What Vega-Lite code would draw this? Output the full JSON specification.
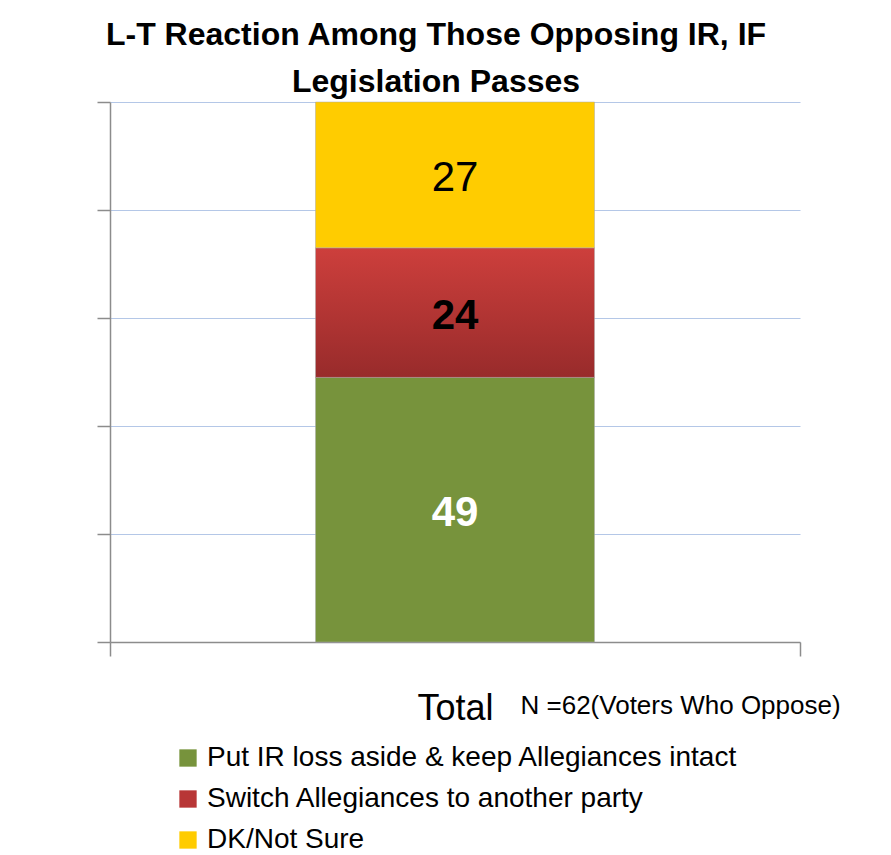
{
  "$schema": "https://vega.github.io/schema/vega-lite/v6.json",
  "width": 690,
  "height": 540,
  "autosize": "none",
  "padding": {"left": 110, "top": 102, "right": 91, "bottom": 213},
  "background": "white",
  "config": {"view": {"stroke": null}},
  "title": {
    "text": ["L-T Reaction Among Those Opposing IR, IF", "Legislation Passes"],
    "font": "Liberation Sans",
    "fontSize": 32,
    "fontWeight": "bold",
    "lineHeight": 47,
    "color": "black",
    "anchor": "middle",
    "dx": -19,
    "offset": 2
  },
  "data": {
    "values": [
      {"group": "Total", "category": "Put IR loss aside & keep Allegiances intact", "pct": 49, "rank": 1},
      {"group": "Total", "category": "Switch Allegiances to another party", "pct": 24, "rank": 2},
      {"group": "Total", "category": "DK/Not Sure", "pct": 27, "rank": 3}
    ]
  },
  "encoding": {
    "x": {
      "field": "group",
      "type": "nominal",
      "scale": {"paddingInner": 0, "paddingOuter": 0},
      "axis": {
        "tickBand": "extent",
        "ticks": true,
        "tickSize": 14,
        "tickColor": "#8c8c8c",
        "tickWidth": 1.5,
        "domainColor": "#8c8c8c",
        "domainWidth": 1.5,
        "labelAngle": 0,
        "labelFont": "Liberation Sans",
        "labelFontSize": 36,
        "labelColor": "black",
        "labelPadding": 35,
        "title": "N =62(Voters Who Oppose)",
        "titleFont": "Liberation Sans",
        "titleFontSize": 26,
        "titleFontWeight": "normal",
        "titleColor": "black",
        "titleX": 410,
        "titleY": 71,
        "titleAlign": "left",
        "titleBaseline": "alphabetic",
        "grid": false
      }
    },
    "order": {"field": "rank", "type": "quantitative"}
  },
  "layer": [
    {
      "mark": {"type": "bar", "size": 279, "stroke": "#a8a8a8", "strokeWidth": 0.5},
      "encoding": {
        "y": {
          "field": "pct",
          "type": "quantitative",
          "stack": "zero",
          "scale": {"domain": [0, 100], "nice": false},
          "axis": {
            "values": [0, 20, 40, 60, 80, 100],
            "labels": false,
            "title": null,
            "tickSize": 13,
            "tickColor": "#8c8c8c",
            "tickWidth": 1.5,
            "domainColor": "#8c8c8c",
            "domainWidth": 1.5,
            "gridColor": "#b4c7e7",
            "gridWidth": 1
          }
        },
        "fill": {
          "condition": {
            "test": "datum.category === 'Switch Allegiances to another party'",
            "value": {
              "gradient": "linear",
              "x1": 0, "y1": 0, "x2": 0, "y2": 1,
              "stops": [
                {"offset": 0, "color": "#cd3f3c"},
                {"offset": 1, "color": "#982b2b"}
              ]
            }
          },
          "field": "category",
          "type": "nominal",
          "scale": {
            "domain": ["Put IR loss aside & keep Allegiances intact", "Switch Allegiances to another party", "DK/Not Sure"],
            "range": ["#77933c", "#b83636", "#ffcc00"]
          },
          "legend": {
            "orient": "none",
            "legendX": 64,
            "legendY": 642,
            "title": null,
            "direction": "vertical",
            "padding": 0,
            "symbolType": "square",
            "symbolSize": 300,
            "symbolStrokeWidth": 0,
            "labelFont": "Liberation Sans",
            "labelFontSize": 28,
            "labelColor": "black",
            "labelOffset": 5,
            "labelLimit": 0,
            "rowPadding": 13
          }
        }
      }
    },
    {
      "mark": {"type": "text", "font": "Liberation Sans", "fontSize": 42, "fontWeight": "normal", "color": "black", "baseline": "middle", "dy": 3},
      "encoding": {
        "y": {"field": "pct", "type": "quantitative", "stack": "zero", "bandPosition": 0.5},
        "text": {"field": "pct", "type": "quantitative"},
        "opacity": {"condition": {"test": "datum.rank === 3", "value": 1}, "value": 0}
      }
    },
    {
      "mark": {"type": "text", "font": "Liberation Sans", "fontSize": 42, "fontWeight": "bold", "baseline": "middle", "dy": 3},
      "encoding": {
        "y": {"field": "pct", "type": "quantitative", "stack": "zero", "bandPosition": 0.5},
        "text": {"field": "pct", "type": "quantitative"},
        "opacity": {"condition": {"test": "datum.rank === 3", "value": 0}, "value": 1},
        "color": {
          "condition": {"test": "datum.rank === 1", "value": "white"},
          "value": "black"
        }
      }
    }
  ]
}
